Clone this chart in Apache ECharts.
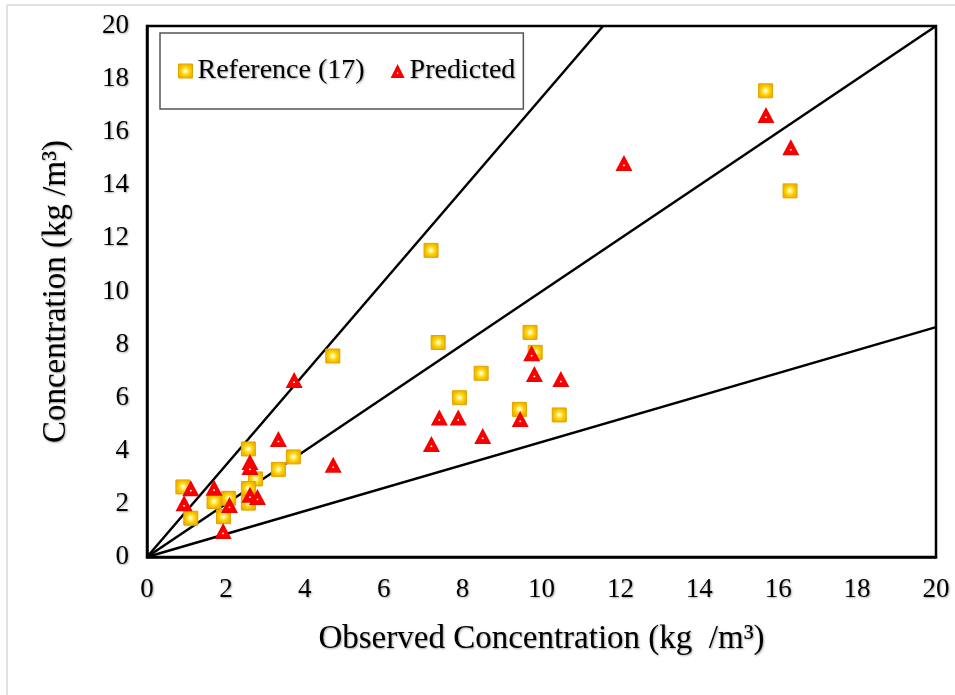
<!DOCTYPE html>
<html><head><meta charset="utf-8">
<script src="https://cdn.jsdelivr.net/npm/echarts@6/dist/echarts.min.js"></script>
<style>html,body{margin:0;padding:0;background:#fff}#c{width:955px;height:695px}</style>
</head><body><div id="c"></div>
<script>
const xTicks = [0,2,4,6,8,10,12,14,16,18,20];
const yTicks = [0,2,4,6,8,10,12,14,16,18,20];
const referencePts = [
  [0.91,2.64],[1.11,1.46],[1.70,2.09],[1.94,1.52],[2.07,2.21],[2.57,4.07],[2.75,2.94],
  [2.57,2.58],[2.57,2.03],[3.33,3.30],[3.71,3.77],[4.71,7.57],[7.20,11.55],[7.38,8.08],
  [9.71,8.46],[9.84,7.71],[8.47,6.92],[7.92,6.00],[9.44,5.56],[10.45,5.35],[15.68,17.56],[16.30,13.79]
];
const predictedPts = [
  [1.11,2.59],[0.94,2.02],[1.70,2.61],[2.09,1.96],[1.93,0.98],[2.61,3.58],[2.61,3.39],
  [2.61,2.34],[2.80,2.26],[3.33,4.44],[3.73,6.67],[4.72,3.47],[7.21,4.26],[7.41,5.25],
  [7.89,5.25],[8.51,4.56],[9.46,5.20],[9.75,7.67],[9.82,6.89],[10.49,6.70],[12.09,14.84],
  [15.69,16.65],[16.32,15.43]
];
const upperLine = [[0,0],[11.56,20]];
const equalLine = [[0,0],[20,20]];
const lowerLine = [[0,0],[20,8.66]];

const font = '"Liberation Serif","Times New Roman",serif';
const shadow = {textShadowColor:'rgba(0,0,0,0.35)',textShadowBlur:2,textShadowOffsetX:1,textShadowOffsetY:1};
const yellowFill = {type:'radial',x:0.5,y:0.5,r:0.5,colorStops:[
  {offset:0,color:'#ffffff'},{offset:0.2,color:'#fff4a8'},{offset:0.55,color:'#ffd400'},{offset:1,color:'#f0b000'}]};
const redFill = {type:'radial',x:0.5,y:0.65,r:0.5,colorStops:[
  {offset:0,color:'#ffffff'},{offset:0.07,color:'#ffe0e0'},{offset:0.16,color:'#ff0000'},{offset:1,color:'#f00000'}]};
const lineStyle = {color:'#000',width:2.5};
function refLine(d){return {type:'line',data:d,symbol:'none',silent:true,lineStyle:lineStyle,z:1,animation:false};}

const chart = echarts.init(document.getElementById('c'));
chart.setOption({
  animation:false,
  backgroundColor:'#fff',
  grid:{left:147,right:19,top:26,bottom:138,show:true,borderColor:'#000',borderWidth:2.5,backgroundColor:'transparent'},
  xAxis:{type:'value',min:0,max:20,interval:2,
    axisLine:{show:true,lineStyle:{color:'#000',width:2.5}},axisTick:{show:false},splitLine:{show:false},
    axisLabel:Object.assign({color:'#000',fontFamily:font,fontSize:27,margin:19,formatter:v=>xTicks.includes(v)?String(v):''},shadow),
    name:'Observed Concentration (kg  /m\u00b3)',nameLocation:'middle',nameGap:66,
    nameTextStyle:Object.assign({color:'#000',fontFamily:font,fontSize:33},shadow)},
  yAxis:{type:'value',min:0,max:20,interval:2,
    axisLine:{show:true,lineStyle:{color:'#000',width:2.5}},axisTick:{show:false},splitLine:{show:false},
    axisLabel:Object.assign({color:'#000',fontFamily:font,fontSize:27,margin:18,formatter:v=>yTicks.includes(v)?String(v):''},shadow),
    name:'Concentration (kg /m\u00b3)',nameLocation:'middle',nameGap:74,
    nameTextStyle:Object.assign({color:'#000',fontFamily:font,fontSize:33},shadow)},
  legend:{left:160,top:33,orient:'horizontal',borderColor:'#555',borderWidth:1.5,
    padding:[24,8,24,18],itemGap:26,itemWidth:14,itemHeight:14,
    textStyle:Object.assign({color:'#000',fontFamily:font,fontSize:28},shadow),
    data:[{name:'Reference (17)',icon:'rect',itemStyle:{color:yellowFill,borderColor:'#e0a400',borderWidth:1}},
          {name:'Predicted',icon:'triangle',itemStyle:{color:redFill}}]},
  graphic:[
    {type:'line',shape:{x1:7,y1:5,x2:7,y2:695},style:{stroke:'#d8d8d8',lineWidth:1.5},silent:true},
    {type:'line',shape:{x1:7,y1:5,x2:955,y2:5},style:{stroke:'#d8d8d8',lineWidth:1.5},silent:true}
  ],
  series:[
    refLine(upperLine),refLine(equalLine),refLine(lowerLine),
    {name:'Reference (17)',type:'scatter',data:referencePts,symbol:'rect',symbolSize:14,z:3,
      itemStyle:{color:yellowFill,borderColor:'#e0a400',borderWidth:1,opacity:1}},
    {name:'Predicted',type:'scatter',data:predictedPts,symbol:'triangle',symbolSize:[17,16],z:4,
      itemStyle:{color:redFill,opacity:1}}
  ]
});
</script></body></html>
